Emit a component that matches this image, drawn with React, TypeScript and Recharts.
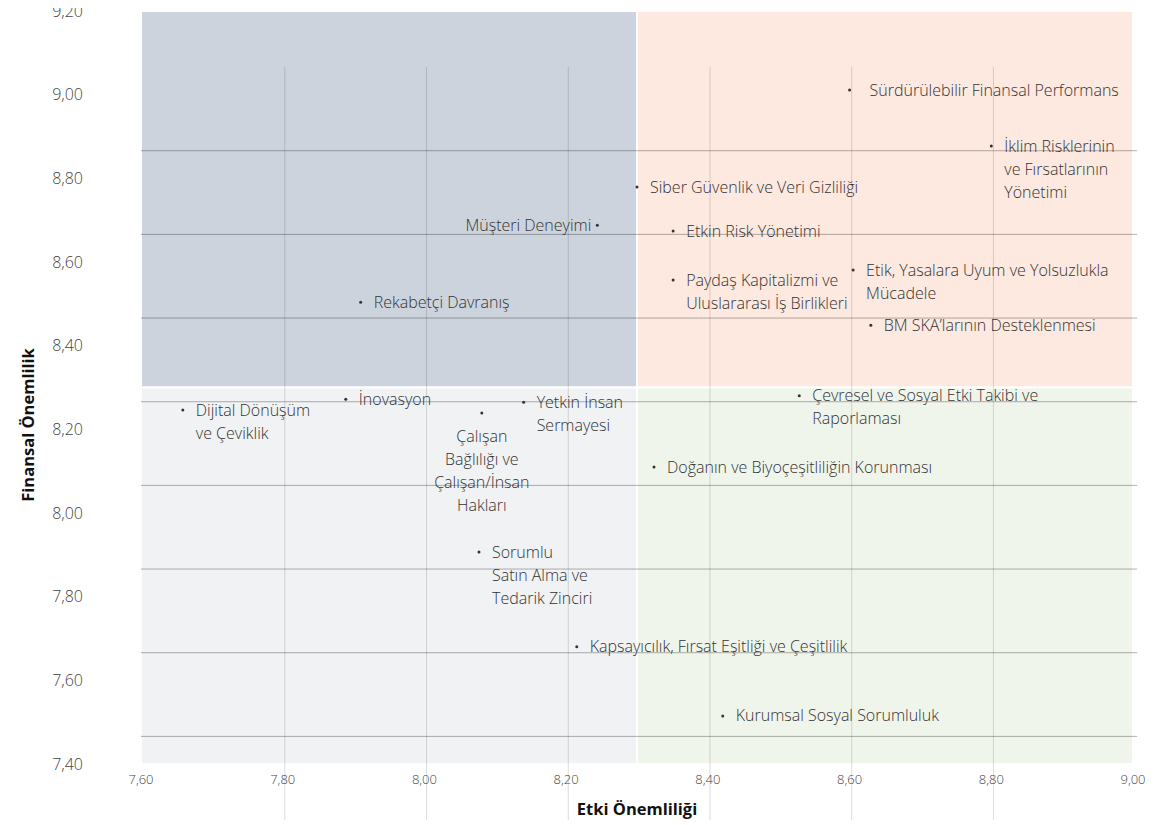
import React from 'react'
import {
  ScatterChart,
  Scatter,
  XAxis,
  YAxis,
  ReferenceArea,
  ReferenceLine
} from 'recharts'

// axis ticks
const xTicks = [7.6, 7.8, 8.0, 8.2, 8.4, 8.6, 8.8, 9.0]
const yTicks = [7.4, 7.6, 7.8, 8.0, 8.2, 8.4, 8.6, 8.8, 9.0, 9.2]

// topics (impact materiality, financial materiality)
const topicNames = [
  'Sürdürülebilir Finansal Performans',
  'İklim Risklerinin\nve Fırsatlarının\nYönetimi',
  'Siber Güvenlik ve Veri Gizliliği',
  'Müşteri Deneyimi',
  'Etkin Risk Yönetimi',
  'Paydaş Kapitalizmi ve\nUluslararası İş Birlikleri',
  'Etik, Yasalara Uyum ve Yolsuzlukla\nMücadele',
  'BM SKA’larının Desteklenmesi',
  'Rekabetçi Davranış',
  'Dijital Dönüşüm\nve Çeviklik',
  'İnovasyon',
  'Çalışan\nBağlılığı ve\nÇalışan/İnsan\nHakları',
  'Yetkin İnsan\nSermayesi',
  'Çevresel ve Sosyal Etki Takibi ve\nRaporlaması',
  'Doğanın ve Biyoçeşitliliğin Korunması',
  'Sorumlu\nSatın Alma ve\nTedarik Zinciri',
  'Kapsayıcılık, Fırsat Eşitliği ve Çeşitlilik',
  'Kurumsal Sosyal Sorumluluk'
]
const impactValues = [
  8.6, 8.8, 8.3, 8.244, 8.351, 8.351, 8.605, 8.63, 7.91, 7.659, 7.889, 8.081,
  8.14, 8.529, 8.324, 8.077, 8.215, 8.421
]
const financialValues = [
  9.011, 8.877, 8.779, 8.688, 8.674, 8.557, 8.581, 8.449, 8.504, 8.246, 8.272,
  8.239, 8.265, 8.28, 8.11, 7.907, 7.68, 7.515
]

// quadrant split
const splitX = 8.3
const splitY = 8.3

const data = topicNames.map((name, i) => ({
  name,
  x: impactValues[i],
  y: financialValues[i]
}))

// label placement tweaks (style only)
const labelPlacement: Record<string, { anchor: 'start' | 'end' | 'middle'; dx: number; dy: number }> = {
  'Sürdürülebilir Finansal Performans': { anchor: 'start', dx: 20, dy: 0 },
  'Müşteri Deneyimi': { anchor: 'end', dx: -6, dy: 0 },
  'Çalışan\nBağlılığı ve\nÇalışan/İnsan\nHakları': { anchor: 'middle', dx: 0, dy: 23 }
}

const fmt = (v: number) => v.toFixed(2).replace('.', ',')
const font = "'Open Sans', 'Noto Sans', sans-serif"

// grid in the original is drawn shifted down from the ticks
const gridShiftY = 0.134

const TopicShape = (props: any) => {
  const { cx, cy, payload } = props
  const place = labelPlacement[payload.name] || { anchor: 'start', dx: 13, dy: 0 }
  const lines = String(payload.name).split('\n')
  return (
    <g>
      <circle cx={cx} cy={cy} r={1.5} fill="#333" />
      <text
        x={cx + place.dx}
        y={cy + place.dy}
        textAnchor={place.anchor}
        fontFamily={font}
        fontWeight={300}
        fontSize={16}
        fill="#333"
      >
        {lines.map((l, i) => (
          <tspan key={i} x={cx + place.dx} dy={i === 0 ? '0.35em' : 23}>
            {l}
          </tspan>
        ))}
      </text>
    </g>
  )
}

export default function App() {
  return (
    <div style={{ margin: '-8px 0 0 -8px', width: 1167, height: 825 }}>
      <ScatterChart
        width={1167}
        height={825}
        margin={{ top: 11, right: 34, left: 0, bottom: 0 }}
      >
        <XAxis
          type="number"
          dataKey="x"
          domain={[7.6, 9.0]}
          ticks={xTicks}
          allowDataOverflow
          axisLine={false}
          tickLine={false}
          tickSize={0}
          tickMargin={11}
          height={61}
          tickFormatter={fmt}
          tick={{ fontSize: 13, fill: '#444', fontFamily: font, fontWeight: 300 }}
          label={{
            value: 'Etki Önemliliği',
            position: 'insideBottom',
            offset: 10,
            style: { fontSize: 16.5, fontWeight: 700, fill: '#111', fontFamily: font }
          }}
        />
        <YAxis
          type="number"
          dataKey="y"
          domain={[7.4, 9.2]}
          ticks={yTicks}
          allowDataOverflow
          axisLine={false}
          tickLine={false}
          tickSize={0}
          tickMargin={58}
          width={141}
          tickFormatter={fmt}
          tick={{ fontSize: 16, fill: '#444', fontFamily: font, fontWeight: 300 }}
          label={{
            content: () => (
              <text
                x={27}
                y={425}
                transform="rotate(-90, 27, 425)"
                textAnchor="middle"
                dominantBaseline="central"
                fontSize={16.5}
                fontWeight={700}
                fill="#111"
                fontFamily={font}
              >
                Finansal Önemlilik
              </text>
            )
          }}
        />
        <ReferenceArea x1={7.6} x2={splitX} y1={splitY} y2={9.2} fill="#cdd3dc" fillOpacity={1} stroke="#fff" strokeWidth={2} />
        <ReferenceArea x1={splitX} x2={9.0} y1={splitY} y2={9.2} fill="#fde9df" fillOpacity={1} stroke="#fff" strokeWidth={2} />
        <ReferenceArea x1={7.6} x2={splitX} y1={7.4} y2={splitY} fill="#f1f2f4" fillOpacity={1} stroke="#fff" strokeWidth={2} />
        <ReferenceArea x1={splitX} x2={9.0} y1={7.4} y2={splitY} fill="#f0f5ec" fillOpacity={1} stroke="#fff" strokeWidth={2} />
        {yTicks.slice(1, -1).map((t) => (
          <ReferenceLine
            key={'h' + t}
            segment={[
              { x: 7.6, y: t - gridShiftY },
              { x: 9.006, y: t - gridShiftY }
            ]}
            ifOverflow="visible"
            stroke="#000"
            strokeOpacity={0.3}
            strokeWidth={1}
          />
        ))}
        {xTicks.slice(1, -1).map((t) => (
          <ReferenceLine
            key={'v' + t}
            segment={[
              { x: t + 0.003, y: 9.2 - gridShiftY },
              { x: t + 0.003, y: 7.4 - gridShiftY }
            ]}
            ifOverflow="visible"
            stroke="#000"
            strokeOpacity={0.14}
            strokeWidth={1}
          />
        ))}
        <Scatter data={data} shape={<TopicShape />} isAnimationActive={false} />
      </ScatterChart>
    </div>
  )
}
